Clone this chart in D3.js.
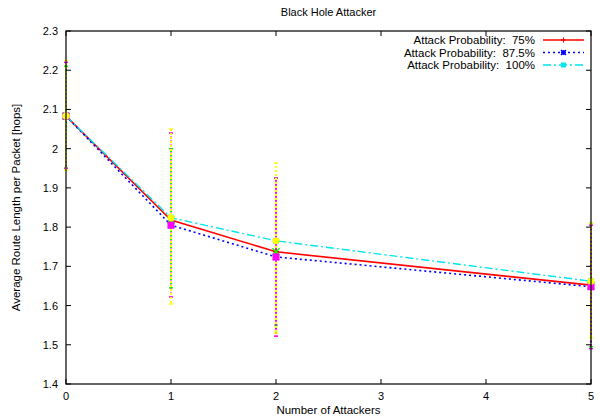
<!DOCTYPE html>
<html><head><meta charset="utf-8">
<script src="https://cdn.jsdelivr.net/npm/d3@7"></script>
<style>body{margin:0;background:#fff}svg text{font-family:"Liberation Sans",Arial,sans-serif;font-size:11px;fill:#000;white-space:pre}</style>
</head><body><svg id="c" width="600" height="419"></svg>
<script>
const attackers = [0, 1, 2, 5];
const xTicks = [0, 1, 2, 3, 4, 5];
const yTicks = [1.4, 1.5, 1.6, 1.7, 1.8, 1.9, 2.0, 2.1, 2.2, 2.3];
const seriesNames = ["Attack Probability:  75%", "Attack Probability:  87.5%", "Attack Probability:  100%"];
const mean75 = [2.083, 1.818, 1.737, 1.652];
const mean875 = [2.083, 1.805, 1.724, 1.648];
const mean100 = [2.083, 1.824, 1.765, 1.662];
const low75 = [1.95, 1.645, 1.55, 1.495];
const high75 = [2.21, 2.0, 1.925, 1.81];
const low875 = [1.95, 1.622, 1.522, 1.49];
const high875 = [2.22, 2.04, 1.925, 1.805];
const low100 = [1.945, 1.604, 1.53, 1.518];
const high100 = [2.225, 2.05, 1.963, 1.81];

const svg = d3.select("#c");
const L = 66, R = 591, T = 31, B = 384;
const x = d3.scaleLinear().domain([0, 5]).range([L, R]);
const y = d3.scaleLinear().domain([1.4, 2.3]).range([B, T]);

const series = [
  {name: seriesNames[0], mean: mean75, low: low75, high: high75, line: "#ff0000", err: "#00ff00", dash: null, width: 1.6, mk: "plus", emk: "cross"},
  {name: seriesNames[1], mean: mean875, low: low875, high: high875, line: "#0000ff", err: "#ff00ff", dash: "2,3", width: 1.6, mk: "star", emk: "square"},
  {name: seriesNames[2], mean: mean100, low: low100, high: high100, line: "#00e5ee", err: "#ffff00", dash: "8,3,2,3", width: 1.4, mk: "square", emk: "circle"}
];

const errG = svg.append("g");
series.forEach((s, si) => {
  attackers.forEach((a, i) => {
    const cx = x(a);
    errG.append("line").attr("x1", cx).attr("x2", cx).attr("y1", y(s.low[i])).attr("y2", y(s.high[i]))
      .attr("stroke", s.err).attr("stroke-width", 2).attr("stroke-dasharray", "2,2").attr("stroke-dashoffset", si * 1.5);
    [s.low[i], s.high[i]].forEach(v => {
      errG.append("line").attr("x1", cx - 2).attr("x2", cx + 2).attr("y1", y(v)).attr("y2", y(v))
        .attr("stroke", s.err).attr("stroke-width", 1.5);
    });
  });
});

const line = d3.line().x((d, i) => x(attackers[i])).y(d => y(d));
series.forEach(s => {
  svg.append("path").datum(s.mean).attr("d", line).attr("fill", "none")
    .attr("stroke", s.line).attr("stroke-width", s.width).attr("stroke-dasharray", s.dash);
});

function marker(g, type, cx, cy, color, size) {
  const h = size;
  if (type === "plus") {
    g.append("path").attr("d", `M${cx-h},${cy}H${cx+h}M${cx},${cy-h}V${cy+h}`).attr("stroke", color).attr("stroke-width", 1.2).attr("fill", "none");
  } else if (type === "cross") {
    g.append("path").attr("d", `M${cx-h},${cy-h}L${cx+h},${cy+h}M${cx-h},${cy+h}L${cx+h},${cy-h}`).attr("stroke", color).attr("stroke-width", 1.5).attr("fill", "none");
  } else if (type === "star") {
    g.append("path").attr("d", `M${cx-h},${cy}H${cx+h}M${cx},${cy-h}V${cy+h}M${cx-h},${cy-h}L${cx+h},${cy+h}M${cx-h},${cy+h}L${cx+h},${cy-h}`).attr("stroke", color).attr("stroke-width", 1.5).attr("fill", "none");
  } else if (type === "square") {
    g.append("rect").attr("x", cx - h).attr("y", cy - h).attr("width", 2 * h).attr("height", 2 * h).attr("fill", color);
  } else if (type === "circle") {
    g.append("circle").attr("cx", cx).attr("cy", cy).attr("r", h).attr("fill", color);
  }
}

const mkG = svg.append("g");
series.forEach(s => {
  attackers.forEach((a, i) => marker(mkG, s.mk, x(a), y(s.mean[i]), s.line, 3));
});
series.forEach(s => {
  attackers.forEach((a, i) => marker(mkG, s.emk, x(a), y(s.mean[i]), s.err, 3.5));
});

const ax = svg.append("g");
ax.append("rect").attr("x", L).attr("y", T).attr("width", R - L).attr("height", B - T)
  .attr("fill", "none").attr("stroke", "#000").attr("stroke-width", 1.2);
const tk = 5;
xTicks.forEach(t => {
  const px = x(t);
  ax.append("line").attr("x1", px).attr("x2", px).attr("y1", B).attr("y2", B - tk).attr("stroke", "#000");
  ax.append("line").attr("x1", px).attr("x2", px).attr("y1", T).attr("y2", T + tk).attr("stroke", "#000");
  ax.append("text").attr("x", px).attr("y", B + 16).attr("text-anchor", "middle").text(d3.format("d")(t));
});
yTicks.forEach(t => {
  const py = y(t);
  ax.append("line").attr("x1", L).attr("x2", L + tk).attr("y1", py).attr("y2", py).attr("stroke", "#000");
  ax.append("line").attr("x1", R).attr("x2", R - tk).attr("y1", py).attr("y2", py).attr("stroke", "#000");
  ax.append("text").attr("x", L - 8).attr("y", py + 4).attr("text-anchor", "end").text(d3.format("~g")(t));
});

svg.append("text").attr("x", (L + R) / 2).attr("y", 16).attr("text-anchor", "middle").text("Black Hole Attacker");
svg.append("text").attr("x", (L + R) / 2).attr("y", 414).attr("text-anchor", "middle").style("font-size", "11.5px").text("Number of Attackers");
svg.append("text").attr("transform", `translate(20,${(T + B) / 2}) rotate(-90)`).attr("text-anchor", "middle").style("font-size", "11.5px").text("Average Route Length per Packet [hops]");

const lg = svg.append("g");
series.forEach((s, i) => {
  const ly = 40 + i * 12.5;
  lg.append("text").attr("x", 535).attr("y", ly + 4).attr("text-anchor", "end").style("font-size", "11.5px").text(s.name);
  lg.append("line").attr("x1", 543).attr("x2", 584).attr("y1", ly).attr("y2", ly)
    .attr("stroke", s.line).attr("stroke-width", s.width).attr("stroke-dasharray", s.dash);
  marker(lg, s.mk, 563.5, ly, s.line, 2.5);
});
</script></body></html>
